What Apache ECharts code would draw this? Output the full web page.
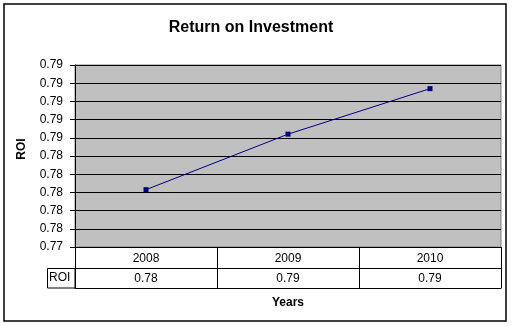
<!DOCTYPE html>
<html>
<head>
<meta charset="utf-8">
<script src="https://cdn.jsdelivr.net/npm/echarts@6/dist/echarts.min.js"></script>
<style>
  html, body { margin: 0; padding: 0; background: #fff; }
</style>
</head>
<body>
<!-- CHART: Return on Investment, line with data table -->
<div id="roi" style="width:513px; height:326px"></div>
<script>
var years = ['2008', '2009', '2010'];
var roi = [0.7803, 0.7864, 0.7914];
var yMin = 0.774, yMax = 0.794, yStep = 0.002;

var font = 'Arial, "Liberation Sans", sans-serif';
var chartDom = document.getElementById('roi');
var myChart = echarts.init(chartDom);
var option;

option = {
  animation: false,
  backgroundColor: '#fff',
  title: {
    text: 'Return on Investment',
    left: 246,
    textAlign: 'center',
    top: 15,
    textStyle: { fontFamily: font, fontSize: 16, fontWeight: 'bold', color: '#000' }
  },
  grid: {
    left: 75, right: 12, top: 65, bottom: 79,
    show: true,
    backgroundColor: '#c0c0c0',
    borderColor: '#808080',
    borderWidth: 1
  },
  xAxis: [
    {
      type: 'category',
      data: years,
      axisLine: { lineStyle: { color: '#000', width: 1 } },
      axisTick: { show: true, length: 41, lineStyle: { color: '#000' } },
      axisLabel: { margin: 6, fontFamily: font, fontSize: 12, color: '#000' }
    },
    {
      type: 'category',
      position: 'bottom',
      offset: 21,
      data: roi.map(function (v) { return v.toFixed(2); }),
      axisLine: { show: true, lineStyle: { color: '#000', width: 1 } },
      axisTick: { show: false },
      axisLabel: { margin: 5, fontFamily: font, fontSize: 12, color: '#000' }
    },
    {
      type: 'category',
      position: 'bottom',
      offset: 41,
      data: years,
      name: 'Years',
      nameLocation: 'middle',
      nameGap: 9,
      nameTextStyle: { fontFamily: font, fontSize: 12, fontWeight: 'bold', color: '#000' },
      axisLine: { show: true, lineStyle: { color: '#000', width: 1 } },
      axisTick: { show: false },
      axisLabel: { show: false }
    }
  ],
  yAxis: {
    type: 'value',
    min: yMin,
    max: yMax,
    interval: yStep,
    name: 'ROI',
    nameLocation: 'middle',
    nameGap: 47,
    nameTextStyle: { fontFamily: font, fontSize: 12, fontWeight: 'bold', color: '#000', padding: [0, 0, 0, 14] },
    axisLine: { show: true, lineStyle: { color: '#000' } },
    axisTick: { show: true, length: 5, lineStyle: { color: '#000' } },
    axisLabel: {
      margin: 12,
      fontFamily: font, fontSize: 12, color: '#000',
      formatter: function (v) { return v.toFixed(2); }
    },
    splitLine: { show: true, lineStyle: { color: '#000', width: 1 } }
  },
  series: [
    {
      name: 'ROI',
      type: 'line',
      data: roi,
      symbol: 'rect',
      symbolSize: 5,
      itemStyle: { color: '#000080' },
      lineStyle: { color: '#000080', width: 1 }
    }
  ],
  graphic: [
    {
      type: 'rect',
      shape: { x: 4, y: 4, width: 502, height: 317 },
      style: { fill: 'none', stroke: '#000', lineWidth: 1.5 },
      z: 100
    },
    {
      type: 'rect',
      shape: { x: 47.5, y: 268.5, width: 27.5, height: 19.5 },
      style: { fill: 'none', stroke: '#000', lineWidth: 1 },
      z: 100
    },
    {
      type: 'text',
      left: 49,
      top: 272,
      style: { text: 'ROI', fontFamily: font, fontSize: 12, fill: '#000' },
      z: 100
    }
  ]
};

option && myChart.setOption(option);
</script>
</body>
</html>
